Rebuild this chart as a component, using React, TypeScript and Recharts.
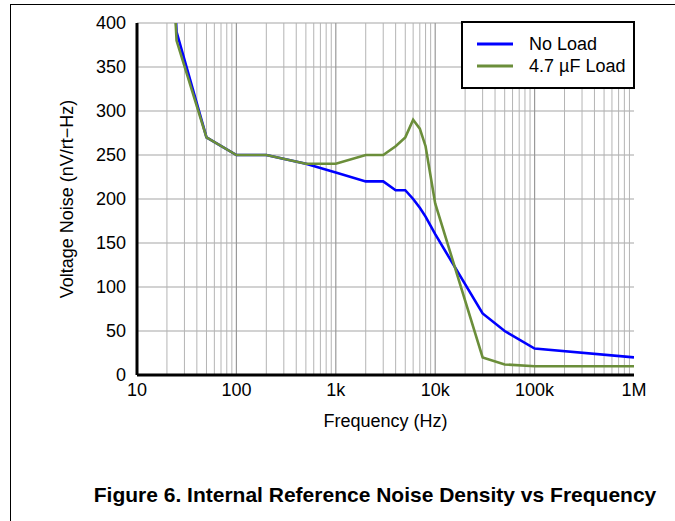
import {
  LineChart, Line, XAxis, YAxis, CartesianGrid, ReferenceLine, Label
} from 'recharts'

const BLUE = '#0000ff'
const GREEN = '#6b8e3a'
const FONT = '"Liberation Sans", Arial, sans-serif'

// ── data ─────────────────────────────────────────────────
const freqs = [24, 25, 50, 100, 200, 500, 1000, 2000, 3000, 4000, 5000, 6000, 7000, 8000, 10000, 30000, 50000, 100000, 1000000]
const noLoad = [430, 390, 270, 250, 250, 240, 230, 220, 220, 210, 210, 200, 190, 180, 160, 70, 50, 30, 20]
const load47 = [420, 380, 270, 250, 250, 240, 240, 250, 250, 260, 270, 290, 280, 260, 195, 20, 12, 10, 10]

const xTicks = [10, 100, 1000, 10000, 100000, 1000000]
const xTickLabels = ['10', '100', '1k', '10k', '100k', '1M']
const yTicks = [0, 50, 100, 150, 200, 250, 300, 350, 400]

// minor grid: 2..9 x each decade
const decades = [10, 100, 1000, 10000, 100000]
const minorMult = [2, 3, 4, 5, 6, 7, 8, 9]
const minorGrid = decades.flatMap(d => minorMult.map(m => d * m))
const majorGrid = [100, 1000, 10000, 100000]

const noLoadData = freqs.map((f, i) => ({ f, v: noLoad[i] }))
const loadData = freqs.map((f, i) => ({ f, v: load47[i] }))

const fmtX = (v: number) => xTickLabels[xTicks.indexOf(v)] ?? String(v)

const legendItems = [
  { name: 'No Load', color: BLUE },
  { name: '4.7 µF Load', color: GREEN },
]

function LegendBox() {
  return (
    <div style={{
      position: 'absolute', left: 461, top: 21, width: 174, height: 68,
      boxSizing: 'border-box', background: '#fff',
      border: '2px solid #000', padding: '10px 0 0 14px', fontFamily: FONT, fontSize: 18,
    }}>
      {legendItems.map(it => (
        <div key={it.name} style={{ display: 'flex', alignItems: 'center', height: 22 }}>
          <svg width={36} height={4} style={{ marginRight: 16 }}>
            <line x1={0} y1={2} x2={36} y2={2} stroke={it.color} strokeWidth={3} />
          </svg>
          <span style={{ lineHeight: '22px' }}>{it.name}</span>
        </div>
      ))}
    </div>
  )
}

const frame = { stroke: '#000', strokeWidth: 3 }

export default function App() {
  const tickStyle = { fontSize: 18, fill: '#000', fontFamily: FONT }
  return (
    <div style={{ position: 'absolute', left: 0, top: 0, width: 675, height: 521, background: '#fff' }}>
      <div style={{
        position: 'absolute', left: 10, top: 4, width: 665, height: 517,
        borderTop: '1px solid #000', borderLeft: '1px solid #000',
      }} />
      <LineChart width={675} height={521} margin={{ top: 23, right: 41, left: 0, bottom: 96 }}>
        <CartesianGrid vertical={false} stroke="#a6a6a6" strokeWidth={1.2} />
        {minorGrid.map(x => (
          <ReferenceLine key={'m' + x} x={x} stroke="#b4b4b4" strokeWidth={1} />
        ))}
        {majorGrid.map(x => (
          <ReferenceLine key={'M' + x} x={x} stroke="#999" strokeWidth={1.2} />
        ))}
        <XAxis dataKey="f" type="number" scale="log" domain={[10, 1000000]} allowDataOverflow
          ticks={xTicks} tickFormatter={fmtX} tickLine={false} axisLine={frame} height={50}
          tick={tickStyle} tickMargin={2}>
          <Label value="Frequency (Hz)" position="insideBottom" offset={-2} style={tickStyle} />
        </XAxis>
        <XAxis xAxisId="top" orientation="top" type="number" scale="log" domain={[10, 1000000]}
          allowDataOverflow height={0} tick={false} tickLine={false} axisLine={frame} />
        <YAxis type="number" domain={[0, 400]} allowDataOverflow ticks={yTicks} width={137}
          tickLine={false} axisLine={frame} tickMargin={5} tick={tickStyle}>
          <Label value="Voltage Noise (nV/rt−Hz)" angle={-90} position="center" dx={-2}
            style={{ ...tickStyle, textAnchor: 'middle' }} />
        </YAxis>
        <YAxis yAxisId="right" orientation="right" type="number" domain={[0, 400]} allowDataOverflow
          width={0} tick={false} tickLine={false} axisLine={frame} />
        <Line data={noLoadData} dataKey="v" name="No Load" stroke={BLUE} strokeWidth={2.6}
          dot={false} isAnimationActive={false} />
        <Line data={loadData} dataKey="v" name="4.7 µF Load" stroke={GREEN} strokeWidth={2.6}
          dot={false} isAnimationActive={false} />
      </LineChart>
      <LegendBox />
      <div style={{
        position: 'absolute', left: 0, width: 750, top: 483, textAlign: 'center',
        fontFamily: FONT, fontWeight: 'bold', fontSize: 21,
      }}>
        Figure 6. Internal Reference Noise Density vs Frequency
      </div>
    </div>
  )
}
